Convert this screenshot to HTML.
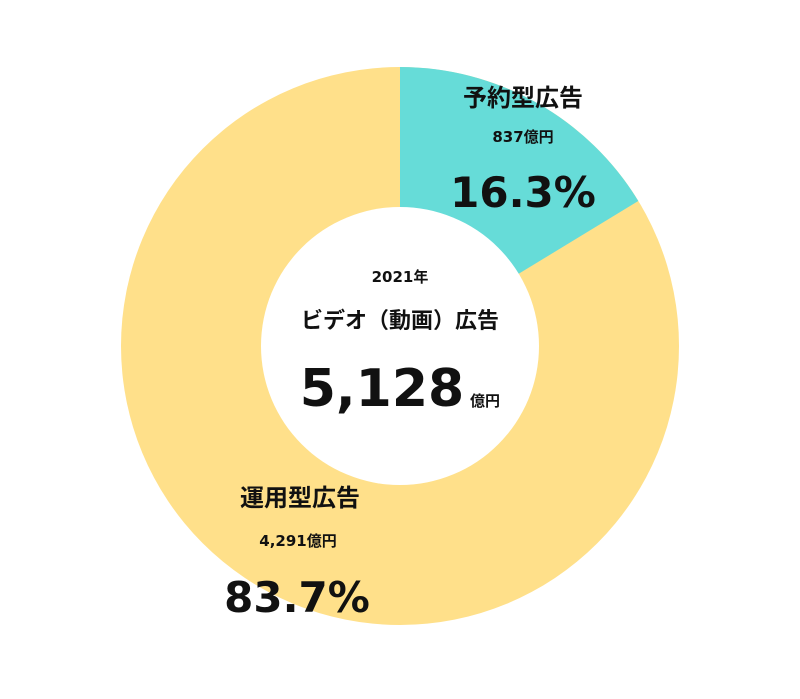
<!DOCTYPE html>
<html><head><meta charset="utf-8"><style>
body{margin:0;background:#fff;}
svg text{font-family:"DejaVu Sans","Noto Sans CJK JP",sans-serif;font-weight:bold;fill:#111;text-anchor:middle;}
</style></head><body>
<svg width="800" height="694" viewBox="0 0 800 694">
<circle cx="400" cy="346" r="279" fill="#ffe08a"/>
<path d="M400,346 L400,67 A279,279 0 0 1 638.3,201 Z" fill="#66dcd8"/>
<circle cx="400" cy="346" r="139" fill="#fff"/>
<text x="523" y="106" font-size="24">予約型広告</text>
<text x="523" y="142" font-size="15">837億円</text>
<text x="523" y="207" font-size="42">16.3%</text>
<text x="400" y="282" font-size="15">2021年</text>
<text x="400" y="328" font-size="22">ビデオ（動画）広告</text>
<text x="382" y="406" font-size="52">5,128</text>
<text x="485" y="406" font-size="15">億円</text>
<text x="300" y="506" font-size="24">運用型広告</text>
<text x="298" y="546" font-size="15">4,291億円</text>
<text x="297" y="612" font-size="42">83.7%</text>
</svg>
</body></html>
